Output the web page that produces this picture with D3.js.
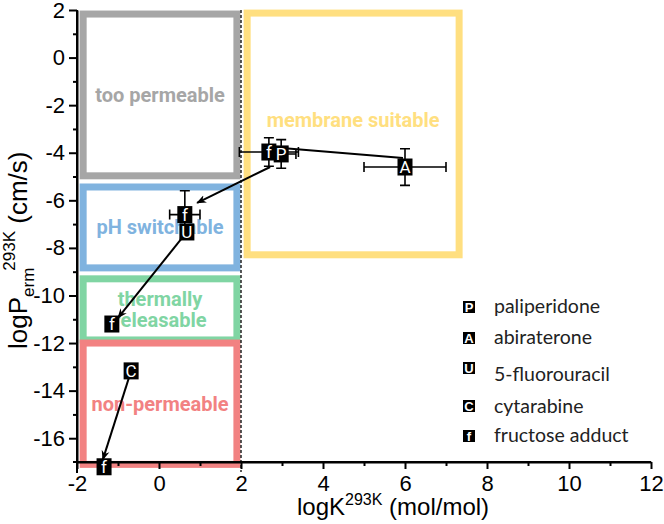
<!DOCTYPE html>
<html>
<head>
<meta charset="utf-8">
<script src="https://cdn.jsdelivr.net/npm/d3@7"></script>
<style>
  body { margin: 0; background: #fff; }
  svg { display: block; }
</style>
</head>
<body>
<div id="chart"></div>
<script>
'use strict';

// Regions (stroke centre lines, in data units)
var regionNames = ['too permeable', 'membrane suitable', 'pH switchable', 'thermally releasable', 'non-permeable'];
var regionX0 = [-1.85, 2.15, -1.85, -1.85, -1.85];
var regionX1 = [1.9, 7.32, 1.9, 1.9, 1.9];
var regionTop = [1.83, 1.87, -5.44, -9.3, -12.0];
var regionBottom = [-4.97, -8.29, -8.84, -11.87, -17.1];

// Compounds plotted
var pointLetters = ['f', 'P', 'A', 'f', 'U', 'f', 'C', 'f'];
var pointX = [2.68, 2.98, 6.0, 0.63, 0.68, -1.15, -0.68, -1.34];
var pointY = [-3.97, -4.05, -4.6, -6.6, -7.33, -11.2, -13.17, -17.2];
var pointXErr = [0.72, 0.36, 1.0, 0.37, 0, 0, 0, 0];
var pointYErr = [0.6, 0.6, 0.77, 1.0, 0, 0, 0, 0];

// Connecting lines / arrows
var linkX1 = [3.0, 2.71, 0.68, -0.68];
var linkY1 = [-3.8, -4.6, -7.33, -13.17];
var linkX2 = [5.95, 0.93, -1.0, -1.37];
var linkY2 = [-4.22, -6.11, -10.94, -16.9];
var linkArrow = [false, true, true, true];

// Legend
var legendLetters = ['P', 'A', 'U', 'C', 'f'];
var legendNames = ['paliperidone', 'abiraterone', '5-fluorouracil', 'cytarabine', 'fructose adduct'];

// Axes
var xMajorTicks = [-2, 0, 2, 4, 6, 8, 10, 12];
var xMinorTicks = [-1, 1, 3, 5, 7, 9, 11];
var yMajorTicks = [2, 0, -2, -4, -6, -8, -10, -12, -14, -16];
var yMinorTicks = [1, -1, -3, -5, -7, -9, -11, -13, -15];
var dividerX = 2;

var width = 664,
  height = 524,
  tickFont = '22px "Liberation Sans", Arial, sans-serif',
  x,
  y,
  svg,
  colour,
  points,
  links,
  regions;

x = d3.scaleLinear().domain([-2, 12]).range([77, 651]);
y = d3.scaleLinear().domain([-17, 2]).range([462, 10]);

colour = d3.scaleOrdinal()
  .domain(regionNames)
  .range(['#a6a6a6', '#ffdf80', '#80b3df', '#80d5a3', '#f28282']);

svg = d3.select('#chart').append('svg')
  .attr('width', width)
  .attr('height', height);

svg.append('defs').append('marker')
  .attr('id', 'arrow')
  .attr('viewBox', '0 0 10 10')
  .attr('refX', 9)
  .attr('refY', 5)
  .attr('markerWidth', 5)
  .attr('markerHeight', 5)
  .attr('markerUnits', 'strokeWidth')
  .attr('orient', 'auto')
  .append('path')
  .attr('d', 'M0,1 L10,5 L0,9 L3,5 Z')
  .style('fill', '#000');

regions = regionNames.map(function (name, i) {
  return {name: name, x0: regionX0[i], x1: regionX1[i], top: regionTop[i], bottom: regionBottom[i]};
});

points = pointLetters.map(function (k, i) {
  return {key: k, x: pointX[i], y: pointY[i], xe: pointXErr[i], ye: pointYErr[i]};
});

links = linkX1.map(function (d, i) {
  return {x1: linkX1[i], y1: linkY1[i], x2: linkX2[i], y2: linkY2[i], arrow: linkArrow[i]};
});

// Region frames
svg.append('g').selectAll('rect').data(regions)
  .enter().append('rect')
  .attr('x', function (d) { return x(d.x0); })
  .attr('y', function (d) { return y(d.top); })
  .attr('width', function (d) { return x(d.x1) - x(d.x0); })
  .attr('height', function (d) { return y(d.bottom) - y(d.top); })
  .style('fill', 'none')
  .style('stroke', function (d) { return colour(d.name); })
  .style('stroke-width', 7);

// Region labels
svg.append('g').selectAll('text').data(regions)
  .enter().append('text')
  .attr('x', function (d) { return (x(d.x0) + x(d.x1)) / 2; })
  .attr('y', function (d) {
    var cy = (y(d.top) + y(d.bottom)) / 2;
    if (d.name === 'membrane suitable') {
      cy -= 14;
    }
    return cy;
  })
  .attr('text-anchor', 'middle')
  .style('font', 'bold 20px Roboto, "Liberation Sans", sans-serif')
  .style('fill', function (d) { return colour(d.name); })
  .each(function (d) {
    var words = d.name === 'thermally releasable' ? ['thermally', 'releasable'] : [d.name];
    var t = d3.select(this);
    words.forEach(function (w, i) {
      t.append('tspan')
        .attr('x', t.attr('x'))
        .attr('dy', i === 0 ? (0.35 - (words.length - 1) * 0.52) + 'em' : '1.05em')
        .text(w);
    });
  });

// Divider at logK = 2
svg.append('line')
  .attr('x1', x(dividerX))
  .attr('x2', x(dividerX))
  .attr('y1', y(2))
  .attr('y2', y(-17) + 10)
  .style('stroke', '#000')
  .style('stroke-width', 1.3)
  .style('stroke-dasharray', '3,2');

// Axes
function styleAxis(g) {
  g.selectAll('path.domain').style('stroke', '#000').style('stroke-width', 2);
  g.selectAll('.tick line').style('stroke', '#000').style('stroke-width', 2);
  g.selectAll('.tick text').style('font', tickFont).style('fill', '#000');
}

svg.append('g')
  .attr('transform', 'translate(0,' + y(-17) + ')')
  .call(d3.axisBottom(x).tickValues(xMinorTicks).tickSize(4).tickSizeOuter(0).tickFormat(''))
  .call(styleAxis);

svg.append('g')
  .attr('transform', 'translate(0,' + y(-17) + ')')
  .call(d3.axisBottom(x).tickValues(xMajorTicks).tickSize(7).tickSizeOuter(0).tickPadding(6)
    .tickFormat(function (d) { return String(d); }))
  .call(styleAxis)
  .call(function (g) {
    g.select('path.domain').attr('d', 'M' + (x(-2) - 4) + ',0H' + x(12));
  });

svg.append('g')
  .attr('transform', 'translate(' + x(-2) + ',0)')
  .call(d3.axisLeft(y).tickValues(yMinorTicks).tickSize(4).tickSizeOuter(0).tickFormat(''))
  .call(styleAxis);

svg.append('g')
  .attr('transform', 'translate(' + x(-2) + ',0)')
  .call(d3.axisLeft(y).tickValues(yMajorTicks).tickSize(8).tickSizeOuter(0).tickPadding(4)
    .tickFormat(function (d) { return String(d); }))
  .call(styleAxis)
  .call(function (g) {
    g.select('path.domain').attr('d', 'M0,' + y(2) + 'V' + (y(-17) + 11));
  });

// Axis titles
svg.append('text')
  .attr('x', 297)
  .attr('y', 515)
  .style('font', '24px "Liberation Sans", Arial, sans-serif')
  .call(function (t) {
    t.append('tspan').text('logK');
    t.append('tspan').attr('dy', -10).style('font-size', '16px').text('293K');
    t.append('tspan').attr('dy', 10).text(' (mol/mol)');
  });

svg.append('text')
  .attr('transform', 'translate(27,349) rotate(-90)')
  .style('font', '26px "Liberation Sans", Arial, sans-serif')
  .call(function (t) {
    t.append('tspan').text('logP');
    t.append('tspan').attr('dy', 7).style('font-size', '17px').text('erm');
    t.append('tspan').attr('dy', -19).attr('dx', -3).style('font-size', '17px').text('293K');
    t.append('tspan').attr('dy', 12).text(' (cm/s)');
  });

// Links
svg.append('g').selectAll('line').data(links)
  .enter().append('line')
  .attr('x1', function (d) { return x(d.x1); })
  .attr('y1', function (d) { return y(d.y1); })
  .attr('x2', function (d) { return x(d.x2); })
  .attr('y2', function (d) { return y(d.y2); })
  .style('stroke', '#000')
  .style('stroke-width', 2)
  .attr('marker-end', function (d) { return d.arrow ? 'url(#arrow)' : null; });

// Error bars
var err = svg.append('g').selectAll('g').data(points.filter(function (d) { return d.xe || d.ye; }))
  .enter().append('g')
  .style('stroke', '#000')
  .style('stroke-width', 1.6);

err.filter(function (d) { return d.xe; }).append('path')
  .attr('d', function (d) {
    var a = x(d.x - d.xe), b = x(d.x + d.xe), c = y(d.y);
    return 'M' + a + ',' + c + 'H' + b + 'M' + a + ',' + (c - 5) + 'V' + (c + 5) + 'M' + b + ',' + (c - 5) + 'V' + (c + 5);
  });

err.filter(function (d) { return d.ye; }).append('path')
  .attr('d', function (d) {
    var a = y(d.y + d.ye), b = y(d.y - d.ye), c = x(d.x);
    return 'M' + c + ',' + a + 'V' + b + 'M' + (c - 5) + ',' + a + 'H' + (c + 5) + 'M' + (c - 5) + ',' + b + 'H' + (c + 5);
  });

// Markers
var mark = svg.append('g').selectAll('g').data(points)
  .enter().append('g')
  .attr('transform', function (d) { return 'translate(' + x(d.x) + ',' + y(d.y) + ')'; });

mark.append('rect')
  .attr('x', -7.5)
  .attr('y', -8.5)
  .attr('width', 15)
  .attr('height', 17)
  .style('fill', '#000');

mark.append('text')
  .attr('text-anchor', 'middle')
  .attr('dy', '0.36em')
  .style('font', '17px Roboto, "Liberation Sans", sans-serif')
  .style('fill', '#fff')
  .text(function (d) { return d.key; });

// Legend
var legendMarkY = [307, 338, 368, 406, 436];
var legendTextY = [313, 344, 381, 413, 442];

var leg = svg.append('g').selectAll('g').data(legendLetters)
  .enter().append('g');

leg.append('rect')
  .attr('x', 463)
  .attr('y', function (d, i) { return legendMarkY[i] - 6; })
  .attr('width', 12)
  .attr('height', 12)
  .style('fill', '#000');

leg.append('text')
  .attr('x', 469)
  .attr('y', function (d, i) { return legendMarkY[i]; })
  .attr('dy', '0.37em')
  .attr('text-anchor', 'middle')
  .style('font', 'bold 13px "Liberation Sans", Arial, sans-serif')
  .style('fill', '#fff')
  .text(function (d) { return d; });

leg.append('text')
  .attr('x', 494)
  .attr('y', function (d, i) { return legendTextY[i]; })
  .style('font', '19.5px Lato, "Open Sans", sans-serif')
  .style('fill', '#222')
  .text(function (d, i) { return legendNames[i]; });
</script>
</body>
</html>
